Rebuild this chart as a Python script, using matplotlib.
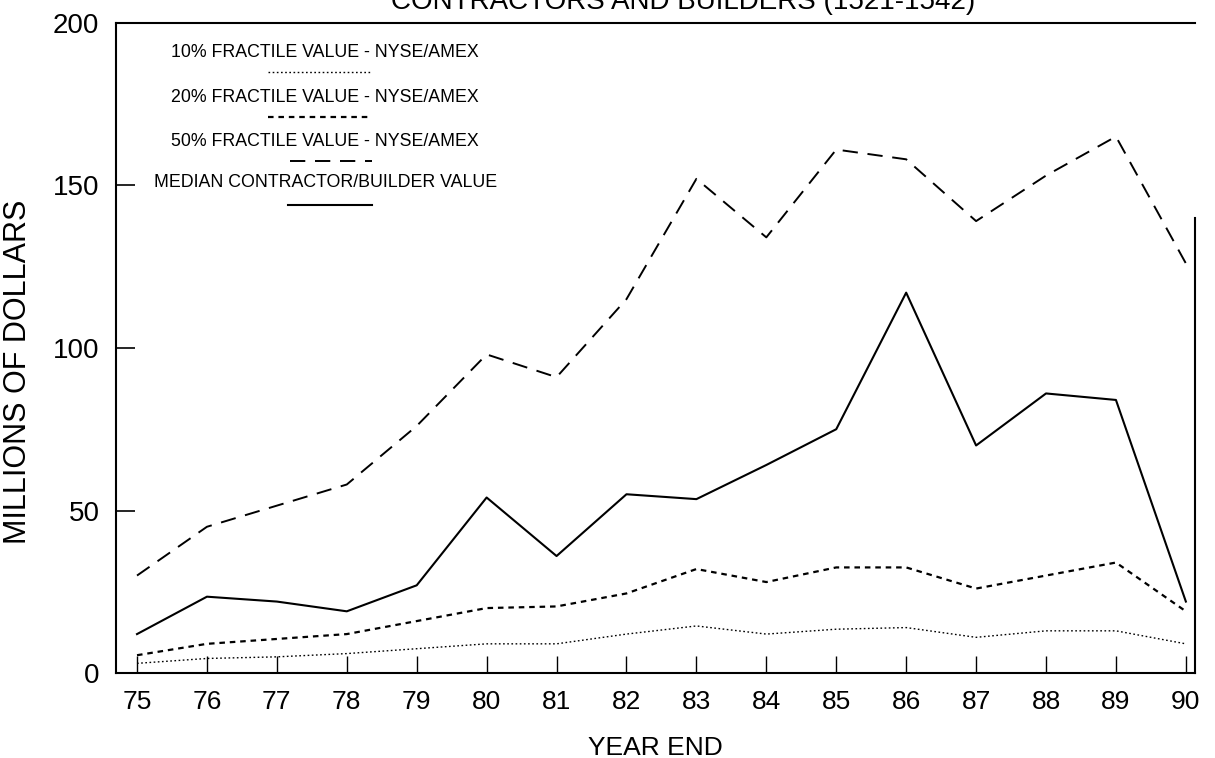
import numpy as np
import matplotlib
matplotlib.use("Agg")
import matplotlib.pyplot as plt

plt.rcParams['font.family'] = ['Liberation Sans', 'DejaVu Sans']
plt.rcParams['lines.scale_dashes'] = False

years = [75, 76, 77, 78, 79, 80, 81, 82, 83, 84, 85, 86, 87, 88, 89, 90]
year_labels = [str(y) for y in years]

# values in millions of dollars
frac10 = [3, 4.5, 5, 6, 7.5, 9, 9, 12, 14.5, 12, 13.5, 14, 11, 13, 13, 9]
frac20 = [5.5, 9, 10.5, 12, 16, 20, 20.5, 24.5, 32, 28, 32.5, 32.5, 26, 30, 34, 19]
frac50 = [30, 45, 51.5, 58, 76, 98, 91, 115, 152, 134, 161, 158, 139, 153, 165, 126]
median_cb = [12, 23.5, 22, 19, 27, 54, 36, 55, 53.5, 64, 75, 117, 70, 86, 84, 22]

legend_names = ["10% FRACTILE VALUE - NYSE/AMEX",
                "20% FRACTILE VALUE - NYSE/AMEX",
                "50% FRACTILE VALUE - NYSE/AMEX",
                "MEDIAN CONTRACTOR/BUILDER VALUE"]

fig = plt.figure(figsize=(12.15, 7.58), dpi=100)
ax = fig.add_axes([0.0955, 0.112, 0.888, 0.858])

styles = [dict(lw=1.0, dashes=(1.2, 1.8)),
          dict(lw=1.6, dashes=(4, 3.5)),
          dict(lw=1.4, dashes=(11, 7)),
          dict(lw=1.5, linestyle='-')]

series = [frac10, frac20, frac50, median_cb]
for vals, st in zip(series, styles):
    ax.plot(years, vals, color='black', **st)

ax.set_xlim(74.7, 90.13)
ax.set_ylim(0, 200)
ax.set_xticks(years)
ax.set_xticklabels(year_labels)
ax.set_yticks([0, 50, 100, 150, 200])
ax.tick_params(axis='y', direction='in', length=14, width=1.2, pad=12,
               labelsize=20)
ax.tick_params(axis='x', direction='in', length=12, width=1.0, pad=12,
               labelsize=19)
for s in ax.spines.values():
    s.set_linewidth(1.5)
ax.spines['right'].set_bounds(0, 140)

ax.set_xlabel("YEAR END", fontsize=19, labelpad=16)
ax.set_ylabel("MILLIONS OF DOLLARS", fontsize=22)
ax.yaxis.set_label_coords(-0.077, 0.463)

# hand-made legend, text above a short line sample
leg_text_y = [0.954, 0.885, 0.817, 0.754]
leg_line_y = [0.925, 0.855, 0.788, 0.720]
leg_line_x = [(0.141, 0.235), (0.141, 0.235), (0.161, 0.237), (0.159, 0.237)]
for name, ty, ly, lx, st in zip(legend_names, leg_text_y, leg_line_y, leg_line_x, styles):
    ax.text(0.194, ty, name, transform=ax.transAxes, ha='center', va='center',
            fontsize=12.8)
    ax.plot(lx, [ly, ly], transform=ax.transAxes, color='black', **st)

# title is cut off by the top of the scan
fig.text(975 / 1215, 0.998, "CONTRACTORS AND BUILDERS (1521-1542)",
         ha='right', va='center', fontsize=20)

fig.savefig("out.png", dpi=100)
